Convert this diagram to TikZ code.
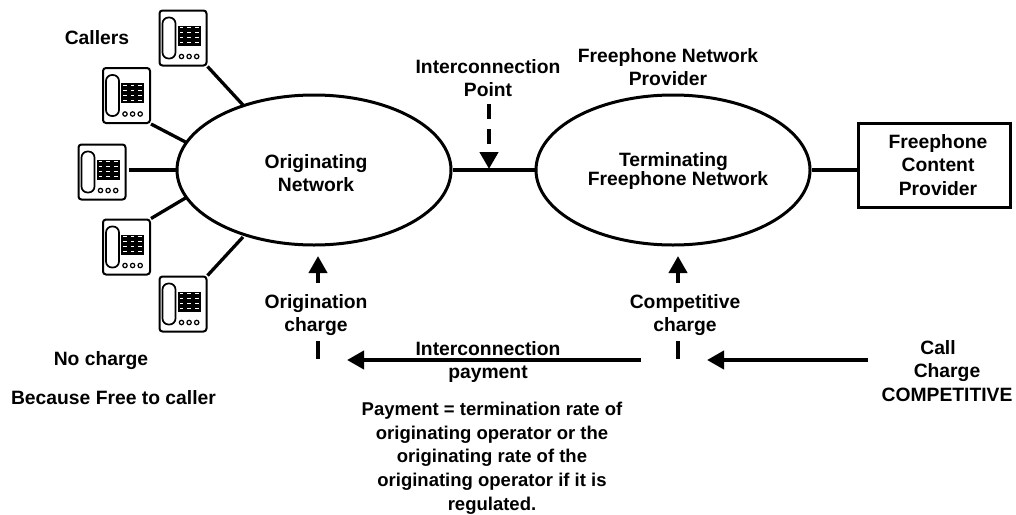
\documentclass[tikz,border=0pt]{standalone}
\usepackage{fontspec}
\setmainfont{Liberation Sans}
\usetikzlibrary{shapes.geometric,arrows.meta}
\tikzset{x=1pt,y=-1pt,
 net/.style={draw,ellipse,line width=3pt,minimum width=274pt,minimum height=150pt,inner sep=0pt,align=center},
 lab/.style={font=\fontsize{19.3pt}{23.7pt}\bfseries\selectfont,align=center,inner sep=0pt},
 tight/.style={font=\fontsize{19.3pt}{18.5pt}\bfseries\selectfont},
 small/.style={font=\fontsize{18.5pt}{23.7pt}\bfseries\selectfont},
 wire/.style={line width=3.3pt},
 flow/.style={line width=4pt,-{Triangle[length=17pt,width=18pt]}},
 stub/.style={line width=4pt},
 phonebox/.style={draw,line width=2pt,rounded corners=3pt,minimum width=47pt,minimum height=55pt,inner sep=0pt},
}
\newcommand{\phoneart}[1]{%
 \draw[line width=1.7pt,rounded corners=6pt] ([shift={(4,8)}]#1.north west) rectangle ([shift={(17,49)}]#1.north west);
 \fill ([shift={(19,16)}]#1.north west) rectangle ([shift={(42,36)}]#1.north west);
 \foreach \r in {0,1,2,3}\foreach \c in {0,1,2}{
  \fill[white] ([shift={(21.2+7.6*\c,17.800+5*\r)}]#1.north west) rectangle ++(3.6,1.1);}
 \foreach \c in {0,1,2}{\draw[line width=1.2pt] ([shift={(23+7.600*\c,47)}]#1.north west) circle (2.2pt);}
}
\begin{document}
\begin{tikzpicture}
\useasboundingbox (0,0) rectangle (1016,514);
\node[phonebox,anchor=north west] (p1) at (158.500,9.500) {};
\node[phonebox,anchor=north west] (p2) at (102,67) {};
\node[phonebox,anchor=north west] (p3) at (77.500,143.500) {};
\node[phonebox,anchor=north west] (p4) at (102,218.500) {};
\node[phonebox,anchor=north west] (p5) at (158.500,275.500) {};
\foreach \n in {p1,p2,p3,p4,p5}{\phoneart{\n}}
\node[net] (orig) at (314,170) {};
\node[net] (term) at (673,170) {};
\node[lab] (origt) at (316,173) {Originating\\Network};
\node[lab,tight] (termt) at (678,171) {\hspace*{-9pt}Terminating\\Freephone Network};
\node[draw,line width=3pt,minimum width=152pt,minimum height=84pt,inner sep=0pt] (cp) at (934.500,165.500) {};
\node[lab] (cpt) at (938,165) {Freephone\\Content\\Provider};
\coordinate (p3w) at (129,170);
\coordinate (o1) at (243,105);
\coordinate (o2) at (185.500,142);
\coordinate (o3) at (176,170);
\coordinate (o4) at (185.500,198);
\coordinate (o5) at (243,237);
\coordinate (cpw) at (858,170);
\draw[wire] (p1.south east) -- (o1);
\draw[wire] (p2.south east) -- (o2);
\draw[wire] (p3w) -- (o3);
\draw[wire] (p4.north east) -- (o4);
\draw[wire] (p5.north east) -- (o5);
\draw[wire] (orig.east) -- (term.west);
\draw[wire] (term.east) -- (cpw);
\node[lab] (callers) at (97,38) {Callers};
\node[lab] (ip) at (488,78) {Interconnection\\Point};
\coordinate (ipa) at (489,104);
\coordinate (ipb) at (489,169);
\draw[line width=4.500pt,dash pattern=on 15pt off 10pt,-{Triangle[length=17pt,width=18pt]}] (ipa) -- (ipb);
\node[lab] (fnp) at (668,67) {Freephone Network\\Provider};
\node[lab] (oc) at (316,315) {Origination\\charge};
\node[lab] (cc) at (685,315) {Competitive\\charge};
\coordinate (ou) at (318,283);
\coordinate (ov) at (318,256);
\coordinate (cu) at (678,283);
\coordinate (cv) at (678,256);
\draw[flow] (ou) -- (ov);
\draw[flow] (cu) -- (cv);
\coordinate (os) at (318,341);
\coordinate (os2) at (318,359);
\coordinate (cs) at (678,341);
\coordinate (cs2) at (678,359);
\draw[stub] (os) -- (os2);
\draw[stub] (cs) -- (cs2);
\coordinate (pa) at (641,360);
\coordinate (pb) at (347,360);
\draw[flow] (pa) -- (pb);
\coordinate (qa) at (868,360);
\coordinate (qb) at (707,360);
\draw[flow] (qa) -- (qb);
\node[lab] (ipay) at (488,362) {Interconnection\\payment};
\node[lab] (cct) at (947,371) {Call\hspace*{18pt}\\Charge\\COMPETITIVE};
\node[lab] (nc) at (101,361) {No charge};
\node[lab] (bf) at (113.500,398) {Because Free to caller};
\node[lab,small] (pay) at (492,458) {Payment = termination rate of\\originating operator or the\\originating rate of the\\originating operator if it is\\regulated.};
\end{tikzpicture}
\end{document}
